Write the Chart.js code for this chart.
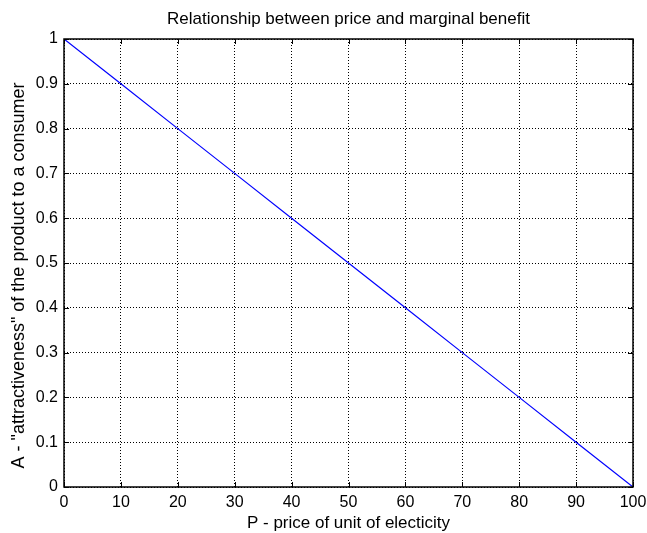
<!DOCTYPE html>
<html>
<head>
<meta charset="utf-8">
<script src="https://cdn.jsdelivr.net/npm/chart.js@4/dist/chart.umd.min.js"></script>
<style>
html,body{margin:0;padding:0;background:#fff;}
#wrap{width:647px;height:533px;}
</style>
</head>
<body>
<div id="wrap"><canvas id="c" width="647" height="533"></canvas></div>
<script>
const prices = [0, 10, 20, 30, 40, 50, 60, 70, 80, 90, 100];
const attractiveness = [1, 0.9, 0.8, 0.7, 0.6, 0.5, 0.4, 0.3, 0.2, 0.1, 0];
const xTicks = [0, 10, 20, 30, 40, 50, 60, 70, 80, 90, 100];
const yTicks = [0, 0.1, 0.2, 0.3, 0.4, 0.5, 0.6, 0.7, 0.8, 0.9, 1];
const titleText = 'Relationship between price and marginal benefit';
const xTitle = 'P - price of unit of electicity';
const yTitle = 'A - "attractiveness" of the product to a consumer     ';

const FONT = '"Liberation Sans", Arial, sans-serif';

const boxPlugin = {
  id: 'box',
  afterDatasetsDraw(chart) {
    const ctx = chart.ctx, a = chart.chartArea;
    const xs = chart.scales.x, ys = chart.scales.y;
    ctx.save();
    ctx.strokeStyle = '#000';
    ctx.lineWidth = 1;
    ctx.setLineDash([]);
    ctx.beginPath();
    const t = 5;
    xTicks.forEach(v => {
      const px = Math.round(xs.getPixelForValue(v)) + 0.5;
      ctx.moveTo(px, a.bottom); ctx.lineTo(px, a.bottom - t);
      ctx.moveTo(px, a.top); ctx.lineTo(px, a.top + t);
    });
    yTicks.forEach(v => {
      const py = Math.round(ys.getPixelForValue(v)) + 0.5;
      ctx.moveTo(a.left, py); ctx.lineTo(a.left + t, py);
      ctx.moveTo(a.right, py); ctx.lineTo(a.right - t, py);
    });
    ctx.stroke();
    ctx.lineWidth = 1.5;
    ctx.strokeRect(a.left, a.top, a.right - a.left, a.bottom - a.top);
    ctx.restore();
  }
};

new Chart(document.getElementById('c'), {
  type: 'scatter',
  data: {
    datasets: [{
      data: prices.map((p, i) => ({x: p, y: attractiveness[i]})),
      showLine: true,
      borderColor: '#0000ff',
      borderWidth: 1.2,
      pointRadius: 0,
      fill: false,
      tension: 0
    }]
  },
  options: {
    responsive: false,
    animation: false,
    devicePixelRatio: 1,
    layout: { padding: { left: 0, right: 14, top: 0, bottom: 0 } },
    plugins: {
      legend: { display: false },
      tooltip: { enabled: false },
      title: {
        display: true,
        fullSize: false,
        text: titleText,
        color: '#000',
        font: { family: FONT, size: 17, weight: 'normal' },
        padding: { top: 9, bottom: 9.6 }
      }
    },
    scales: {
      x: {
        type: 'linear',
        min: 0, max: 100,
        afterBuildTicks(s) { s.ticks = xTicks.map(v => ({value: v})); },
        afterFit(s) { s.height = 46; s.paddingLeft = 0; s.paddingRight = 0; },
        grid: { color: '#000', lineWidth: 1, drawTicks: false },
        border: { display: false, dash: [1, 2] },
        ticks: { color: '#000', padding: 6, font: { family: FONT, size: 16 }, maxRotation: 0 },
        title: { display: true, text: xTitle, color: '#000', font: { family: FONT, size: 17 }, padding: { top: 0, bottom: -1 } }
      },
      y: {
        type: 'linear',
        min: 0, max: 1,
        afterBuildTicks(s) { s.ticks = yTicks.map(v => ({value: v})); },
        afterFit(s) { s.width = 64; s.paddingTop = 0; s.paddingBottom = 0; },
        grid: { color: '#000', lineWidth: 1, drawTicks: false },
        border: { display: false, dash: [1, 2] },
        ticks: { color: '#000', padding: 6, font: { family: FONT, size: 16 }, callback: v => String(Math.round(v * 10) / 10) },
        title: { display: true, text: yTitle, color: '#000', font: { family: FONT, size: 18 }, padding: { top: 8.7, bottom: 0 } }
      }
    }
  },
  plugins: [boxPlugin]
});
</script>
</body>
</html>
